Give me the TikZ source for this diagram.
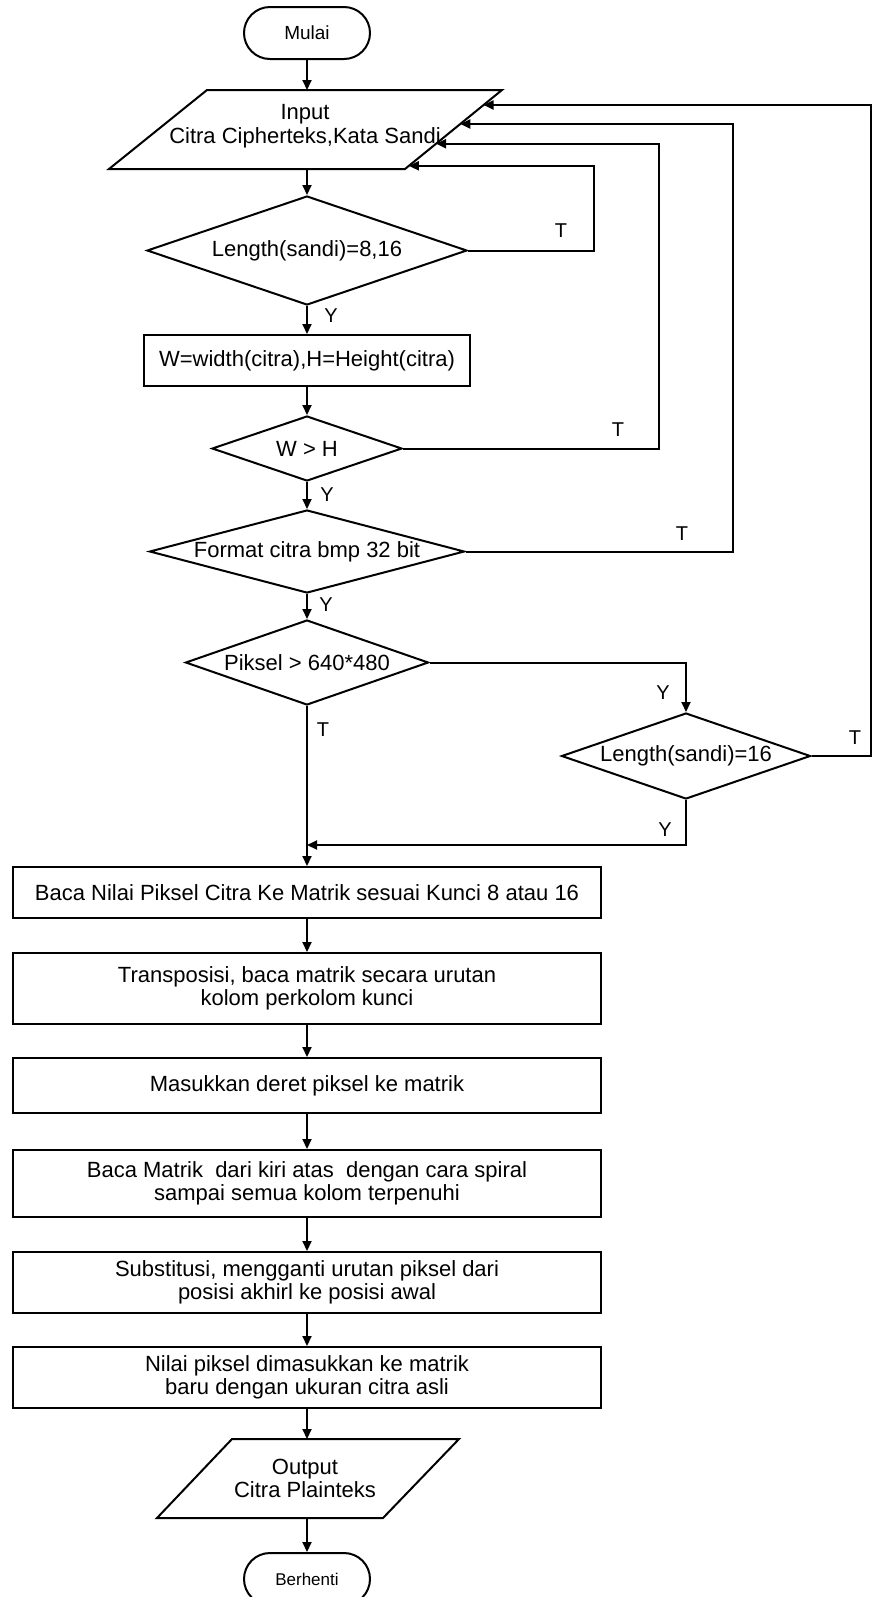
\documentclass[tikz,border=0pt]{standalone}
\usepackage{fontspec}
\setmainfont{Liberation Sans}
\usetikzlibrary{shapes.geometric,arrows.meta,calc}

\tikzset{
  terminal/.style={draw,line width=1pt,rounded corners=13pt,minimum width=63pt,minimum height=26pt,inner sep=0pt},
  iotext/.style={inner sep=0pt,align=center},
  ioline/.style={line width=1pt,line join=miter},
  decision/.style={draw,line width=1pt,diamond,inner sep=0pt},
  process/.style={draw,line width=1pt,rectangle,minimum width=294pt,inner sep=0pt,align=center},
  flow/.style={line width=1pt,-{Triangle[length=5pt,width=4.5pt]}},
  lbl/.style={font=\fontsize{10}{12}\selectfont}
}

\begin{document}
\begin{tikzpicture}[x=0.5pt,y=-0.5pt,font=\fontsize{11}{11.75}\selectfont]
\useasboundingbox (0,0) rectangle (874,1597);
\node[terminal,font=\fontsize{9.5}{11}\selectfont] (mulai) at (307,33) {Mulai};
\draw[ioline] (207,90) coordinate (inTL) -- (502,90) coordinate (inTR) -- (405,169) coordinate (inBR) -- (109,169) coordinate (inBL) -- cycle;
\node[iotext] (input) at (305,126) {Input\\Citra Cipherteks,Kata Sandi};
\node[decision,aspect=2.94,minimum width=160pt,minimum height=54.5pt] (dlen) at (307,250.5) {Length(sandi)=8,16};
\node[process,minimum width=163pt,minimum height=25.5pt] (wh) at (307,360.5) {W=width(citra),H=Height(citra)};
\node[decision,aspect=2.92,minimum width=95pt,minimum height=32.5pt] (dwh) at (307,448.5) {W > H};
\node[decision,aspect=3.8,minimum width=157.5pt,minimum height=41.5pt] (dfmt) at (307,551.5) {Format citra bmp 32 bit};
\node[decision,aspect=2.86,minimum width=121.5pt,minimum height=42.5pt] (dpix) at (307,662.5) {Piksel > 640*480};
\node[decision,aspect=2.9,minimum width=124.5pt,minimum height=43pt] (dlen16) at (686,756) {Length(sandi)=16};
\node[process,minimum height=25.5pt] (baca) at (307,892.5) {Baca Nilai Piksel Citra Ke Matrik sesuai Kunci 8 atau 16};
\node[process,minimum height=35.5pt] (trans) at (307,988.5) {Transposisi, baca matrik secara urutan\\kolom perkolom kunci};
\node[process,minimum height=27.5pt] (masuk) at (307,1085.5) {Masukkan deret piksel ke matrik};
\node[process,minimum height=33.5pt] (spiral) at (307,1183.5) {Baca Matrik\ \ dari kiri atas\ \ dengan cara spiral\\sampai semua kolom terpenuhi};
\node[process,minimum height=30.5pt] (subst) at (307,1282.5) {Substitusi, mengganti urutan piksel dari\\posisi akhirl ke posisi awal};
\node[process,minimum height=30.5pt] (nilai) at (307,1377.5) {Nilai piksel dimasukkan ke matrik\\baru dengan ukuran citra asli};
\draw[ioline] (232,1439) coordinate (outTL) -- (459,1439) coordinate (outTR) -- (383,1518) coordinate (outBR) -- (157,1518) coordinate (outBL) -- cycle;
\node[iotext] (output) at (305,1478.5) {Output\\Citra Plainteks};
\node[terminal,font=\fontsize{8.5}{10}\selectfont] (stop) at (307,1579) {Berhenti};

% entry points on the input side
\coordinate (in1) at ($(inTR)!0.19!(inBR)$);
\coordinate (in2) at ($(inTR)!0.43!(inBR)$);
\coordinate (in3) at ($(inTR)!0.68!(inBR)$);
\coordinate (in4) at ($(inTR)!0.96!(inBR)$);
\coordinate (merge) at (307,845);

\draw[flow] (mulai) -- (mulai |- inTR);
\draw[flow] (dlen |- inBR) -- (dlen);
\draw[flow] (dlen) -- (wh);
\draw[flow] (wh) -- (dwh);
\draw[flow] (dwh) -- (dfmt);
\draw[flow] (dfmt) -- (dpix);
\draw[flow] (dlen.east) -| (594,0 |- in4) -- (in4);
\draw[flow] (dwh.east) -| (659,0 |- in3) -- (in3);
\draw[flow] (dfmt.east) -| (733,0 |- in2) -- (in2);
\draw[flow] (dlen16.east) -| (871,0 |- in1) -- (in1);
\draw[flow] (dpix.east) -| (dlen16.north);
\draw[flow] (dpix.south) -- (baca.north);
\draw[flow] (dlen16.south) |- (merge);
\draw[flow] (baca) -- (trans);
\draw[flow] (trans) -- (masuk);
\draw[flow] (masuk) -- (spiral);
\draw[flow] (spiral) -- (subst);
\draw[flow] (subst) -- (nilai);
\draw[flow] (nilai) -- (nilai |- outTL);
\draw[flow] (stop |- outBL) -- (stop);

\node[lbl] (t1) at (561,231) {T};
\node[lbl] (y1) at (331,316) {Y};
\node[lbl] (t2) at (618,430) {T};
\node[lbl] (y2) at (327,495) {Y};
\node[lbl] (t3) at (682,534) {T};
\node[lbl] (y3) at (326,605) {Y};
\node[lbl] (y4) at (663,693) {Y};
\node[lbl] (t4) at (323,730) {T};
\node[lbl] (t5) at (855,738) {T};
\node[lbl] (y5) at (665,830) {Y};
\end{tikzpicture}
\end{document}
